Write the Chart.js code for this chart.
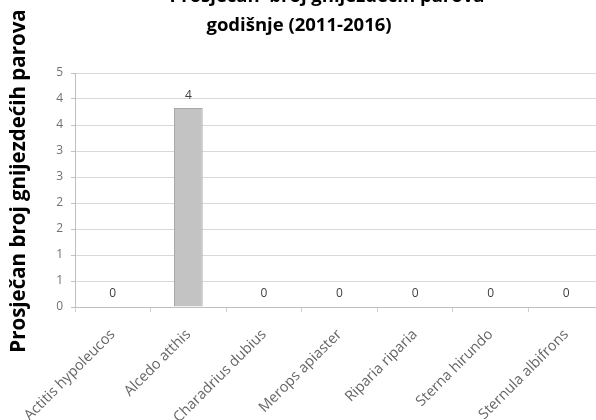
<!DOCTYPE html>
<html>
<head>
<meta charset="utf-8">
<script src="https://cdn.jsdelivr.net/npm/chart.js@4/dist/chart.umd.min.js"></script>
<style>
  html, body { margin: 0; padding: 0; overflow: hidden; background: #ffffff; }
  #wrap { position: absolute; left: 0; top: 0; width: 610px; height: 420px; }
</style>
</head>
<body>
<div id="wrap"><canvas id="chart" width="610" height="420"></canvas></div>
<script>
// Species and their average number of breeding pairs per year
const categories = [
  'Actitis hypoleucos',
  'Alcedo atthis',
  'Charadrius dubius',
  'Merops apiaster',
  'Riparia riparia',
  'Sterna hirundo',
  'Sternula albifrons'
];
const pairs = [0, 4.25, 0, 0, 0, 0, 0];

// Value axis: 0..5 split into nine equal steps, labels shown as whole numbers
const yMax = 5;
const yTickLabels = ['0', '1', '1', '2', '2', '3', '3', '4', '4', '5'];

const titleLines = ['Prosječan  broj gnijezdećih parova', 'godišnje (2011-2016)'];
const yTitle = 'Prosječan broj gnijezdećih parova';

const FONT = '"Open Sans", "Liberation Sans", sans-serif';

// Two-line chart title, drawn by hand so the lines sit exactly where wanted
const titlePlugin = {
  id: 'titleText',
  afterDraw(chart) {
    const ctx = chart.ctx;
    ctx.save();
    ctx.fillStyle = '#000000';
    ctx.font = 'bold 18.5px ' + FONT;
    ctx.textAlign = 'center';
    ctx.textBaseline = 'alphabetic';
    ctx.fillText(titleLines[0], 327, 2);
    ctx.fillText(titleLines[1], 299, 31);
    ctx.restore();
  }
};

// Rotated value-axis title
const yTitlePlugin = {
  id: 'yTitleText',
  afterDraw(chart) {
    const ctx = chart.ctx;
    ctx.save();
    ctx.translate(19, 181);
    ctx.rotate(-Math.PI / 2);
    ctx.fillStyle = '#000000';
    ctx.font = 'bold 20.5px ' + FONT;
    ctx.textAlign = 'center';
    ctx.textBaseline = 'middle';
    ctx.fillText(yTitle, 0, 0);
    ctx.restore();
  }
};

// Value labels above each bar
const valueLabelPlugin = {
  id: 'valueLabels',
  afterDatasetsDraw(chart) {
    const ctx = chart.ctx;
    const meta = chart.getDatasetMeta(0);
    const values = chart.data.datasets[0].data;
    ctx.save();
    ctx.fillStyle = '#404040';
    ctx.font = '12px ' + FONT;
    ctx.textAlign = 'center';
    ctx.textBaseline = 'middle';
    meta.data.forEach((bar, i) => {
      ctx.fillText(String(Math.round(values[i])), bar.x, bar.y - 13);
    });
    ctx.restore();
  }
};

new Chart(document.getElementById('chart'), {
  type: 'bar',
  data: {
    labels: categories,
    datasets: [{
      data: pairs,
      backgroundColor: '#c3c3c3',
      borderColor: '#a8a8a8',
      borderWidth: 1,
      categoryPercentage: 1,
      barPercentage: 0.38
    }]
  },
  options: {
    responsive: false,
    devicePixelRatio: 1,
    animation: false,
    layout: { padding: { top: 73, right: 6, bottom: 0, left: 0 } },
    plugins: {
      legend: { display: false },
      title: { display: false },
      tooltip: { enabled: false }
    },
    scales: {
      x: {
        grid: {
          display: true,
          drawOnChartArea: false,
          drawTicks: true,
          tickLength: 5,
          color: '#d0d0d0'
        },
        border: { color: '#bfbfbf', width: 1 },
        ticks: {
          color: '#666666',
          font: { family: FONT, size: 14.5 },
          maxRotation: 45,
          minRotation: 45,
          padding: 14,
          autoSkip: false
        },
        afterFit(scale) { scale.height = 113; }
      },
      y: {
        min: 0,
        max: yMax,
        afterBuildTicks(scale) {
          const n = yTickLabels.length - 1;
          scale.ticks = yTickLabels.map((_, i) => ({ value: i * yMax / n }));
        },
        grid: {
          color: '#d9d9d9',
          lineWidth: 1,
          drawTicks: true,
          tickLength: 4,
          tickColor: '#bfbfbf'
        },
        border: { color: '#bfbfbf', width: 1 },
        ticks: {
          color: '#707070',
          font: { family: FONT, size: 12 },
          padding: 8,
          callback(value, index) { return yTickLabels[index]; }
        },
        afterFit(scale) { scale.width = 75; }
      }
    }
  },
  plugins: [titlePlugin, yTitlePlugin, valueLabelPlugin]
});
</script>
</body>
</html>
